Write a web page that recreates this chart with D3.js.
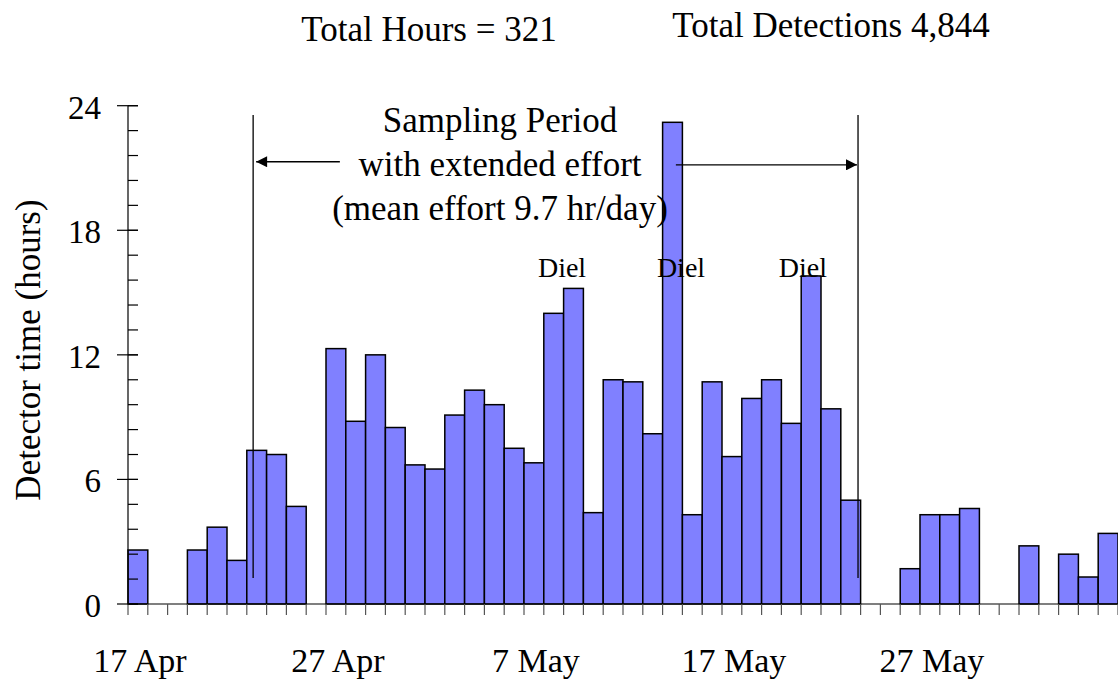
<!DOCTYPE html>
<html>
<head>
<meta charset="utf-8">
<script src="https://cdn.jsdelivr.net/npm/d3@7"></script>
<style>
  body { margin: 0; background: #fff; }
  text { font-family: "Liberation Serif", "Times New Roman", serif; fill: #000; }
</style>
</head>
<body>
<svg id="chart" width="1118" height="684"></svg>
<script>
// daily detector time (hours), one bar per day starting 17 Apr
var hours = [
  2.6, 0, 0, 2.6, 3.7, 2.1, 7.4, 7.2, 4.7, 0,
  12.3, 8.8, 12.0, 8.5, 6.7, 6.5, 9.1, 10.3, 9.6, 7.5,
  6.8, 14.0, 15.2, 4.4, 10.8, 10.7, 8.2, 23.2, 4.3, 10.7,
  7.1, 9.9, 10.8, 8.7, 15.8, 9.4, 5.0, 0, 0, 1.7,
  4.3, 4.3, 4.6, 0, 0, 2.8, 0, 2.4, 1.3, 3.4
]
var tickLabels = ["17 Apr", "27 Apr", "7 May", "17 May", "27 May"]
var tickDays = [0, 10, 20, 30, 40]
var yTicks = [0, 6, 12, 18, 24]
var titles = ["Total Hours = 321", "Total Detections 4,844"]
var noteLines = ["Sampling Period", "with extended effort", "(mean effort 9.7 hr/day)"]

var svg = d3.select("#chart")

var x = d3.scaleLinear().domain([0, hours.length]).range([128, 1118])
var y = d3.scaleLinear().domain([0, 24]).range([604, 105.7])

// minor ticks every 1.2 hr (Excel style)
var minor = d3.range(0, 24.01, 1.2)

// arrow head
svg.append("defs").append("marker")
  .attr("id", "head")
  .attr("viewBox", "0 -5 10 10")
  .attr("refX", 10)
  .attr("refY", 0)
  .attr("markerWidth", 14)
  .attr("markerHeight", 11)
  .attr("markerUnits", "userSpaceOnUse")
  .attr("orient", "auto")
  .append("path")
  .attr("d", "M0,-5L10,0L0,5Z")
  .attr("fill", "#000")

// bars (skip empty days)
var days = hours.map(function(d, i) { return {day: i, h: d} }).filter(function(d) { return d.h > 0 })
svg.append("g").selectAll("rect")
  .data(days)
  .enter().append("rect")
  .attr("x", function(d) { return x(d.day) })
  .attr("width", function(d) { return x(d.day + 1) - x(d.day) })
  .attr("y", function(d) { return y(d.h) })
  .attr("height", function(d) { return y(0) - y(d.h) })
  .attr("fill", "#8080ff")
  .attr("stroke", "#000")
  .attr("stroke-width", 1.5)

// x axis line + day ticks
var axisG = svg.append("g").attr("stroke", "#000").attr("stroke-width", 1.2)
axisG.append("line")
  .attr("x1", x(0)).attr("x2", x(hours.length))
  .attr("y1", y(0)).attr("y2", y(0))
axisG.selectAll("line.xt")
  .data(d3.range(hours.length + 1))
  .enter().append("line").attr("class", "xt")
  .attr("x1", function(d) { return x(d) }).attr("x2", function(d) { return x(d) })
  .attr("y1", y(0)).attr("y2", y(0) + 11)
  .attr("stroke", "#555")

// y axis line + ticks (major cross, minor inside)
axisG.append("line")
  .attr("x1", x(0)).attr("x2", x(0))
  .attr("y1", y(0)).attr("y2", y(24))
axisG.selectAll("line.ymin")
  .data(minor)
  .enter().append("line").attr("class", "ymin")
  .attr("x1", x(0)).attr("x2", x(0) + 10)
  .attr("y1", function(d) { return y(d) }).attr("y2", function(d) { return y(d) })
axisG.selectAll("line.ymaj")
  .data(yTicks)
  .enter().append("line").attr("class", "ymaj")
  .attr("x1", x(0) - 11).attr("x2", x(0) + 10)
  .attr("y1", function(d) { return y(d) }).attr("y2", function(d) { return y(d) })

// y tick labels
svg.selectAll("text.yl")
  .data(yTicks)
  .enter().append("text").attr("class", "yl")
  .attr("x", 101)
  .attr("y", function(d) { return y(d) + 13 })
  .attr("text-anchor", "end")
  .style("font-size", "33px")
  .text(function(d) { return d })

// x tick labels, centered on their day
svg.selectAll("text.xl")
  .data(tickLabels)
  .enter().append("text").attr("class", "xl")
  .attr("x", function(d, i) { return x(tickDays[i] + 0.5) + 2 })
  .attr("y", 672)
  .attr("text-anchor", "middle")
  .style("font-size", "34px")
  .text(function(d) { return d })

// y axis title
svg.append("text")
  .attr("transform", "translate(40,350) rotate(-90)")
  .attr("text-anchor", "middle")
  .style("font-size", "35px")
  .text("Detector time (hours)")

// totals on top
svg.append("text").attr("x", 429).attr("y", 41).attr("text-anchor", "middle")
  .style("font-size", "35px").text(titles[0])
svg.append("text").attr("x", 831).attr("y", 37).attr("text-anchor", "middle")
  .style("font-size", "35px").text(titles[1])

// sampling period markers
var lineTop = 23.55, lineBot = 1.25
var leftEdge = 6.32, rightEdge = 36.87
var ann = svg.append("g").attr("stroke", "#000").attr("stroke-width", 1.3)
;[leftEdge, rightEdge].forEach(function(d) {
  ann.append("line")
    .attr("x1", x(d)).attr("x2", x(d))
    .attr("y1", y(lineTop)).attr("y2", y(lineBot))
})
ann.append("line")
  .attr("x1", x(10.7)).attr("x2", x(leftEdge) + 3)
  .attr("y1", y(21.3)).attr("y2", y(21.3))
  .attr("marker-end", "url(#head)")
ann.append("line")
  .attr("x1", x(27.67)).attr("x2", x(rightEdge) - 1)
  .attr("y1", y(21.15)).attr("y2", y(21.15))
  .attr("marker-end", "url(#head)")

svg.selectAll("text.note")
  .data(noteLines)
  .enter().append("text").attr("class", "note")
  .attr("x", 500)
  .attr("y", function(d, i) { return 132 + i * 44 })
  .attr("text-anchor", "middle")
  .style("font-size", "35px")
  .text(function(d) { return d })

// diel sampling nights
var dielAt = [21.92, 27.93, 34.09]
svg.selectAll("text.diel")
  .data(dielAt)
  .enter().append("text").attr("class", "diel")
  .attr("x", function(d) { return x(d) })
  .attr("y", 277)
  .attr("text-anchor", "middle")
  .style("font-size", "28px")
  .text("Diel")
</script>
</body>
</html>
